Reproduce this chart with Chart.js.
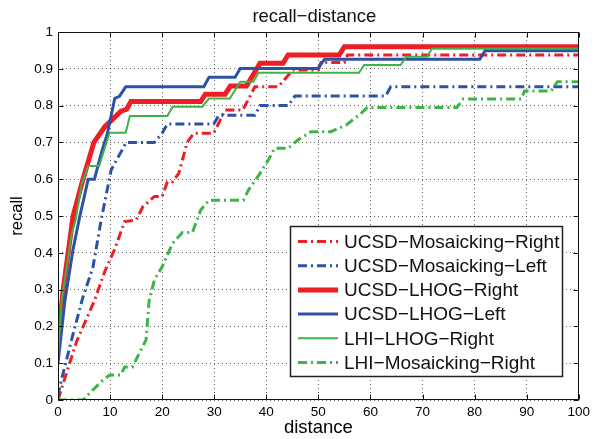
<!DOCTYPE html>
<html>
<head>
<meta charset="utf-8">
<script src="https://cdn.jsdelivr.net/npm/chart.js@4/dist/chart.umd.min.js"></script>
<style>
html,body{margin:0;padding:0;background:#fff;}
canvas{display:block;}
</style>
</head>
<body>
<canvas id="c" width="594" height="439"></canvas>
<script>
// ---- Data ----
const chartTitle = "recall\u2212distance";
const seriesLabels = [
  "UCSD\u2212Mosaicking\u2212Right",
  "UCSD\u2212Mosaicking\u2212Left",
  "UCSD\u2212LHOG\u2212Right",
  "UCSD\u2212LHOG\u2212Left",
  "LHI\u2212LHOG\u2212Right",
  "LHI\u2212Mosaicking\u2212Right"
];

const mosRightX = [0, 2, 3.6, 7, 9, 10.9, 12.8, 15, 16.3, 18.5, 20, 21, 22, 23.2, 24.8, 26.1, 29.9, 32.1, 35.5, 37.8, 42.3, 45.1, 50, 50.5, 55, 55.6, 100];
const mosRightY = [0, 0.09, 0.16, 0.27, 0.35, 0.41, 0.485, 0.489, 0.525, 0.553, 0.553, 0.593, 0.593, 0.616, 0.70, 0.725, 0.725, 0.788, 0.788, 0.851, 0.851, 0.897, 0.897, 0.917, 0.917, 0.9375, 0.9375];

const mosLeftX = [0, 0.4, 2.9, 4.8, 6.7, 8.3, 10.2, 13.1, 18.5, 20, 21, 29.9, 30.9, 37.8, 38.8, 44.2, 45.5, 62.9, 63.9, 100];
const mosLeftY = [0.01, 0.04, 0.18, 0.28, 0.36, 0.49, 0.625, 0.70, 0.70, 0.725, 0.75, 0.75, 0.774, 0.774, 0.80, 0.80, 0.826, 0.826, 0.851, 0.851];

const lhogRightX = [0, 1, 2.9, 4.8, 6.9, 9, 12.1, 13.2, 14, 27.4, 28.3, 32.1, 33.1, 36.2, 38.8, 43.2, 44.2, 54, 55, 100];
const lhogRightY = [0.16, 0.30, 0.50, 0.60, 0.70, 0.743, 0.785, 0.79, 0.811, 0.811, 0.831, 0.831, 0.853, 0.853, 0.915, 0.915, 0.9375, 0.9375, 0.96, 0.96];

const lhogLeftX = [0, 1.33, 2.9, 4.2, 5.8, 7, 8.3, 9.5, 10.9, 11.8, 13, 28, 29, 34, 35, 49.9, 51.2, 81, 82, 100];
const lhogLeftY = [0.10, 0.27, 0.41, 0.50, 0.60, 0.60, 0.67, 0.725, 0.82, 0.825, 0.851, 0.851, 0.877, 0.877, 0.901, 0.901, 0.926, 0.926, 0.949, 0.949];

const lhiLhogX = [0, 0.7, 2.6, 3.4, 4.6, 5.8, 7.9, 9.9, 13, 13.8, 21, 22, 27.7, 29, 33, 35, 37.5, 38.5, 57.8, 58.8, 65.8, 66.9, 70.9, 71.8, 100];
const lhiLhogY = [0.118, 0.27, 0.45, 0.49, 0.59, 0.636, 0.636, 0.7265, 0.7265, 0.772, 0.772, 0.797, 0.797, 0.819, 0.819, 0.865, 0.865, 0.889, 0.889, 0.91, 0.91, 0.933, 0.933, 0.955, 0.955];

const lhiMosX = [0, 4.8, 8.3, 9.9, 12.1, 12.8, 14.3, 15.6, 16.9, 17.5, 18.5, 20, 22, 23.9, 25.8, 27.4, 29, 35.6, 36.6, 38.8, 40.4, 41.6, 44.2, 46.1, 48.6, 52.4, 55.3, 58.2, 59.4, 76.6, 77.8, 89, 89.6, 94.7, 95.9, 100];
const lhiMosY = [0, 0, 0.05, 0.068, 0.068, 0.09, 0.09, 0.127, 0.163, 0.27, 0.326, 0.362, 0.426, 0.455, 0.455, 0.516, 0.543, 0.543, 0.571, 0.616, 0.652, 0.684, 0.684, 0.707, 0.729, 0.729, 0.747, 0.779, 0.795, 0.795, 0.818, 0.818, 0.84, 0.84, 0.865, 0.865];

const xTicks = [0, 10, 20, 30, 40, 50, 60, 70, 80, 90, 100];
const yTicks = [0, 0.1, 0.2, 0.3, 0.4, 0.5, 0.6, 0.7, 0.8, 0.9, 1];

// ---- Styles ----
const RED = "rgb(237,30,36)";
const BLUE = "rgb(44,82,165)";
const GREEN = "rgb(62,180,72)";
const DASHDOT = [9, 4, 2, 4];
const FONT = "'Liberation Sans', Arial, Helvetica, sans-serif";

function pts(xs, ys) { return xs.map((x, i) => ({x: x, y: ys[i]})); }

const styles = [
  {color: RED, width: 3, dash: DASHDOT},
  {color: BLUE, width: 3, dash: DASHDOT},
  {color: RED, width: 5, dash: []},
  {color: BLUE, width: 3, dash: []},
  {color: GREEN, width: 2, dash: []},
  {color: GREEN, width: 3, dash: DASHDOT}
];
const dataXs = [mosRightX, mosLeftX, lhogRightX, lhogLeftX, lhiLhogX, lhiMosX];
const dataYs = [mosRightY, mosLeftY, lhogRightY, lhogLeftY, lhiLhogY, lhiMosY];

const datasets = seriesLabels.map((lab, i) => ({
  label: lab,
  data: pts(dataXs[i], dataYs[i]),
  borderColor: styles[i].color,
  borderWidth: styles[i].width,
  borderDash: styles[i].dash,
  borderCapStyle: 'butt',
  borderJoinStyle: 'miter',
  pointRadius: 0,
  tension: 0,
  fill: false,
  order: seriesLabels.length - i
}));

const boxPlugin = {
  id: 'boxPlugin',
  afterDatasetsDraw(chart) {
    const {ctx, chartArea: a, scales} = chart;
    ctx.save();
    ctx.strokeStyle = '#111';
    ctx.lineWidth = 1;
    ctx.setLineDash([]);
    const L = Math.round(a.left) + 0.5, R = Math.round(a.right) - 0.5;
    const T = Math.round(a.top) + 0.5, B = Math.round(a.bottom) - 0.5;
    ctx.strokeRect(L, T, R - L, B - T);
    const tl = 5;
    ctx.beginPath();
    xTicks.forEach(v => {
      const px = Math.round(scales.x.getPixelForValue(v)) + 0.5;
      ctx.moveTo(px, B); ctx.lineTo(px, B - tl);
      ctx.moveTo(px, T); ctx.lineTo(px, T + tl);
    });
    yTicks.forEach(v => {
      const py = Math.round(scales.y.getPixelForValue(v)) + 0.5;
      ctx.moveTo(L, py); ctx.lineTo(L + tl, py);
      ctx.moveTo(R, py); ctx.lineTo(R - tl, py);
    });
    ctx.stroke();
    ctx.restore();
  },
  afterDraw(chart) {
    const {ctx, chartArea: a} = chart;
    ctx.save();
    // title
    ctx.fillStyle = '#111';
    ctx.font = "18.5px " + FONT;
    ctx.textAlign = 'center';
    ctx.textBaseline = 'middle';
    ctx.fillText(chartTitle, (a.left + a.right) / 2 - 4, 17);
    // legend
    const bx = 290.5, by = 226.5, bw = 272, bh = 150;
    ctx.fillStyle = '#fff';
    ctx.fillRect(bx, by, bw, bh);
    ctx.strokeStyle = '#222';
    ctx.lineWidth = 1.5;
    ctx.strokeRect(bx, by, bw, bh);
    ctx.font = "19px " + FONT;
    ctx.textBaseline = 'middle';
    ctx.textAlign = 'left';
    chart.data.datasets.forEach((ds, i) => {
      const y = 241.5 + i * 24.2;
      ctx.strokeStyle = ds.borderColor;
      ctx.lineWidth = ds.borderWidth;
      ctx.setLineDash(ds.borderDash || []);
      ctx.lineCap = 'butt';
      ctx.beginPath();
      ctx.moveTo(298, y); ctx.lineTo(338, y);
      ctx.stroke();
      ctx.setLineDash([]);
      ctx.fillStyle = '#111';
      ctx.fillText(ds.label, 344, y + 1);
    });
    ctx.restore();
  }
};

new Chart(document.getElementById('c'), {
  type: 'line',
  data: {datasets: datasets},
  plugins: [boxPlugin],
  options: {
    responsive: false,
    animation: false,
    devicePixelRatio: 1,
    layout: {padding: {left: 0, right: 11, top: 32, bottom: 0}},
    plugins: {
      legend: {display: false},
      tooltip: {enabled: false},
      title: {display: false}
    },
    scales: {
      x: {
        type: 'linear', min: 0, max: 100,
        afterFit(s) { s.height = 39; },
        afterBuildTicks(s) { s.ticks = xTicks.map(v => ({value: v})); },
        ticks: {color: '#000', font: {family: FONT, size: 13.5}, padding: 4, maxRotation: 0, autoSkip: false},
        grid: {color: 'rgba(0,0,0,0.6)', lineWidth: 1, drawTicks: false},
        border: {display: false, dash: [1, 3]},
        title: {display: true, text: 'distance', color: '#000', font: {family: FONT, size: 18.5, lineHeight: 1.2}, padding: {top: 0, bottom: 0}}
      },
      y: {
        type: 'linear', min: 0, max: 1,
        afterFit(s) { s.width = 58; },
        afterBuildTicks(s) { s.ticks = yTicks.map(v => ({value: v})); },
        ticks: {color: '#000', font: {family: FONT, size: 13.5}, padding: 5, autoSkip: false,
          callback: v => String(Math.round(v * 10) / 10)},
        grid: {color: 'rgba(0,0,0,0.6)', lineWidth: 1, drawTicks: false},
        border: {display: false, dash: [1, 3]},
        title: {display: true, text: 'recall', color: '#000', font: {family: FONT, size: 16.5, lineHeight: 1.2}, padding: {top: 8, bottom: 0}}
      }
    }
  }
});
</script>
</body>
</html>
